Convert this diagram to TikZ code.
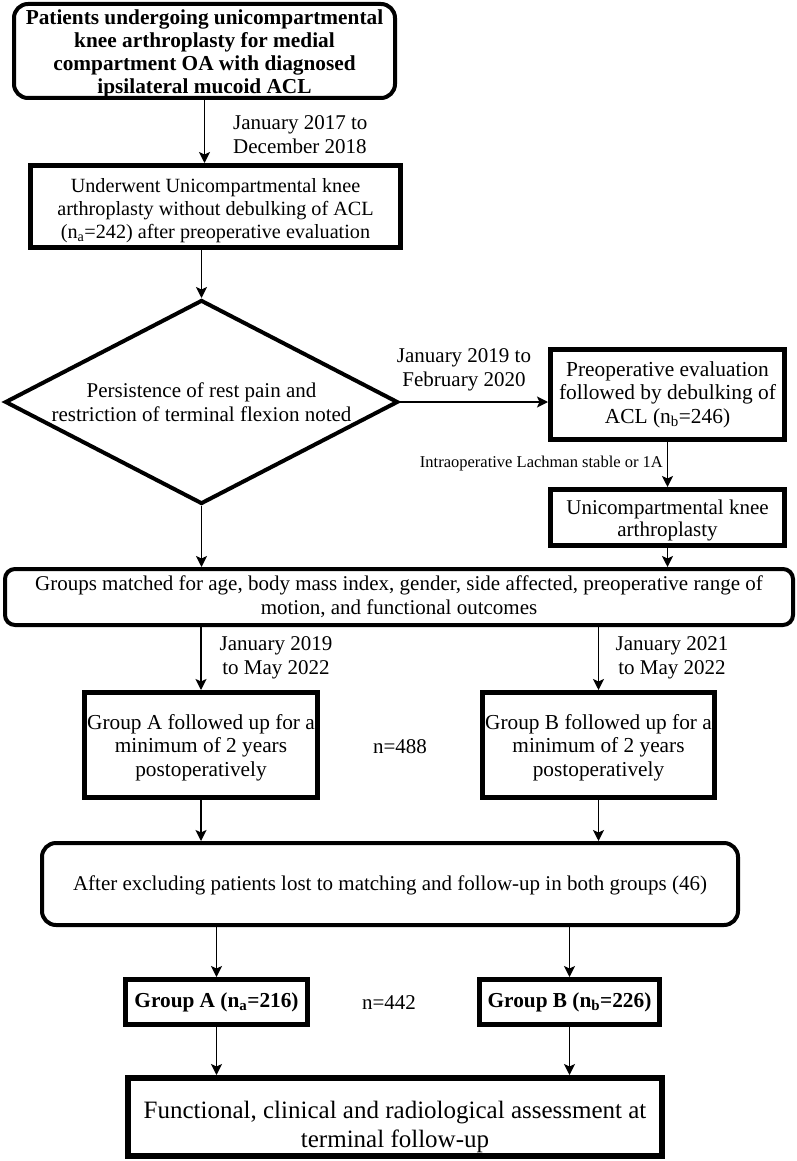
\documentclass[tikz,border=0pt]{standalone}
\usepackage{fontspec}
\setmainfont{Liberation Serif}
\usetikzlibrary{shapes.geometric,arrows.meta}
\newcommand{\upgap}[1]{\rule{0pt}{#1}}
\begin{document}
\begin{tikzpicture}[x=1pt,y=-1pt,
  txt/.style={font=\fontsize{21}{24}\selectfont, align=center, inner sep=0pt},
  rbox/.style={txt, draw, line width=4pt, rounded corners=12pt},
  sbox/.style={txt, draw, line width=5pt},
  arr/.style={-{Stealth[length=11pt,width=11pt,inset=2.5pt]}, line width=1.7pt},
  lab/.style={txt}
]
\useasboundingbox (0,0) rectangle (796,1161);

\node[rbox, rounded corners=14pt, minimum width=381pt, minimum height=94pt, font=\fontsize{21.3}{23}\selectfont\bfseries] (top) at (204.5,51)
  {\upgap{20pt}Patients undergoing unicompartmental\\knee arthroplasty for medial\\compartment OA with diagnosed\\ipsilateral mucoid ACL};

\node[sbox, minimum width=370pt, minimum height=82pt, font=\fontsize{20.2}{23}\selectfont] (under) at (215.5,206.5)
  {\upgap{23pt}Underwent Unicompartmental knee\\arthroplasty without debulking of ACL\\(n\textsubscript{a}=242) after preoperative evaluation};

\node[txt, shape=diamond, draw, line width=4pt, aspect=1.91, minimum width=393pt, minimum height=204pt] (dia) at (201.5,402)
  {Persistence of rest pain and\\restriction of terminal flexion noted};

\node[sbox, minimum width=234pt, minimum height=90pt, font=\fontsize{21.4}{23.5}\selectfont] (preop) at (667.5,394.5)
  {Preoperative evaluation\\followed by debulking of\\ACL (n\textsubscript{b}=246)};

\node[sbox, minimum width=234pt, minimum height=56pt, font=\fontsize{21}{22.5}\selectfont] (uka) at (667.5,517.5)
  {\upgap{21pt}Unicompartmental knee\\arthroplasty};

\node[rbox, rounded corners=10pt, minimum width=788pt, minimum height=56pt] (grp) at (399,597)
  {Groups matched for age, body mass index, gender, side affected, preoperative range of\\motion, and functional outcomes};

\node[sbox, minimum width=233pt, minimum height=105pt, font=\fontsize{21.3}{23.5}\selectfont] (ga) at (201,745)
  {\upgap{20pt}Group A followed up for a\\minimum of 2 years\\postoperatively};
\node[sbox, minimum width=232pt, minimum height=105pt, font=\fontsize{21.3}{23.5}\selectfont] (gb) at (598.5,745)
  {\upgap{20pt}Group B followed up for a\\minimum of 2 years\\postoperatively};
\node[lab] (n1) at (400,747) {n=488};

\node[rbox, rounded corners=14pt, minimum width=696pt, minimum height=82pt] (aft) at (390,884)
  {\upgap{17pt}After excluding patients lost to matching and follow-up in both groups (46)};

\node[sbox, minimum width=182pt, minimum height=45pt, font=\fontsize{21.3}{24}\selectfont\bfseries] (fa) at (216.5,1002)
  {Group A (n\textsubscript{a}=216)};
\node[sbox, minimum width=180pt, minimum height=45pt, font=\fontsize{21.3}{24}\selectfont\bfseries] (fb) at (569.5,1002)
  {Group B (n\textsubscript{b}=226)};
\node[lab] (n2) at (389,1003) {n=442};

\node[sbox, line width=6pt, minimum width=534pt, minimum height=78pt, font=\fontsize{25}{29}\selectfont] (fin) at (395,1117)
  {\upgap{37pt}Functional, clinical and radiological assessment at\\terminal follow-up};

% labels
\node[lab, anchor=west, align=left] (l1) at (233,135) {January 2017 to\\December 2018};
\node[lab] (l2) at (464,370) {January 2019 to\\February 2020};
\node[lab, anchor=east, font=\fontsize{16.5}{19}\selectfont] (l3) at (663,464) {Intraoperative Lachman stable or 1A};
\node[lab] (l4) at (276,658) {January 2019\\to May 2022};
\node[lab] (l5) at (672,658) {January 2021\\to May 2022};

% arrows
\draw[arr] (top.south) -- (top.south |- under.north);
\draw[arr] (dia.north |- under.south) -- (dia.north);
\draw[arr] (dia.east) -- (dia.east -| preop.west);
\draw[arr] (preop.south) -- (uka.north);
\draw[arr] (dia.south) -- (dia.south |- grp.north);
\draw[arr] (uka.south) -- (uka.south |- grp.north);
\draw[arr] (grp.south -| ga.north) -- (ga.north);
\draw[arr] (grp.south -| gb.north) -- (gb.north);
\draw[arr] (ga.south) -- (ga.south |- aft.north);
\draw[arr] (gb.south) -- (gb.south |- aft.north);
\draw[arr] (aft.south -| fa.north) -- (fa.north);
\draw[arr] (aft.south -| fb.north) -- (fb.north);
\draw[arr] (fa.south) -- (fa.south |- fin.north);
\draw[arr] (fb.south) -- (fb.south |- fin.north);
\end{tikzpicture}
\end{document}
